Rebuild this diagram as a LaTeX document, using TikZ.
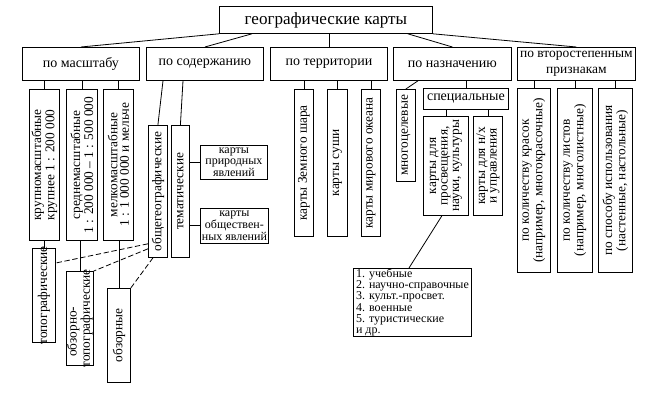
\documentclass[tikz,border=0pt]{standalone}
\usepackage{fontspec}
\setmainfont{Liberation Serif}
\usetikzlibrary{calc}
\newcommand\bxv[6]{\node[boxn, minimum width={(#4-#2)*0.75pt}, minimum height={(#5-#3)*0.75pt}, anchor=north west] (#1) at (#2,#3) {};
  \node[vtxt] (#1-t) at (#1.center) {#6};}
\newcommand\bxh[7]{\node[boxn, minimum width={(#4-#2)*0.75pt}, minimum height={(#5-#3)*0.75pt}, anchor=north west] (#1) at (#2,#3) {};
  \node[htxt, font=#6] (#1-t) at (#1.center) {#7};}
\begin{document}
\begin{tikzpicture}[x=0.75pt,y=-0.75pt,
  boxn/.style={draw, line width=0.6pt, inner sep=0pt},
  vtxt/.style={rotate=90, align=center, inner sep=0pt, font=\fontsize{10}{8.6}\selectfont},
  htxt/.style={align=center, inner sep=0pt},
  conn/.style={line width=0.6pt},
  dconn/.style={line width=0.6pt, dash pattern=on 4pt off 2pt}]
\fill[white] (0,0) rectangle (662,403);
\useasboundingbox (0,0) rectangle (662,403);
% top
\bxh{top}{219}{6}{432}{33}{\fontsize{12.8}{15}\selectfont}{географические карты}
% row 2
\bxh{masht}{22}{47}{139}{80}{\fontsize{10.5}{12.5}\selectfont}{по масштабу}
\bxh{soder}{146}{47}{263}{80}{\fontsize{10.5}{12.5}\selectfont}{по содержанию}
\bxh{terr}{270}{47}{387}{80}{\fontsize{10.5}{12.5}\selectfont}{по территории}
\bxh{nazn}{393}{47}{511}{80}{\fontsize{10.5}{12.5}\selectfont}{по назначению}
\bxh{vtor}{517}{47}{635}{80}{\fontsize{10.1}{12.5}\selectfont}{по второстепенным\\признакам}
\draw[conn] (top.south west) -- (masht.north);
\draw[conn] ($(top.south west)+(33,0)$) -- (soder.north);
\draw[conn] (terr.north |- top.south) -- (terr.north);
\draw[conn] ($(top.south east)+(-25,0)$) -- (nazn.north);
\draw[conn] (top.south east) -- (vtor.north);
% scale
\bxv{krup}{29}{89}{59}{240}{крупномасштабные\\крупнее 1 : 200 000}
\bxv{sred}{66}{89}{97}{240}{среднемасштабные\\1 : 200 000 – 1 : 500 000}
\bxv{melk}{103}{89}{133}{240}{мелкомасштабные\\1 : 1 000 000 и мельче}
\foreach \n in {krup,sred,melk} \draw[conn] (\n.north |- masht.south) -- (\n.north);
\bxv{topo}{32}{248}{55}{342}{топографические}
\bxv{obztopo}{66}{271}{93}{365}{обзорно-\kern2em\relax\\топографические}
\bxv{obz}{107}{288}{130}{382}{обзорные}
\draw[conn] (topo.north |- krup.south) -- (topo.north);
\draw[conn] (obztopo.north |- sred.south) -- (obztopo.north);
\draw[conn] (obz.north |- melk.south) -- (obz.north);
% content
\bxv{obsh}{148}{125}{167}{257}{общегеографические}
\bxv{temat}{171}{125}{189}{257}{тематические}
\draw[conn] ($(soder.south west)+(17,0)$) -- (obsh.north);
\draw[conn] ($(soder.south west)+(37,0)$) -- (temat.north);
\bxh{prir}{200}{145}{267}{179}{\fontsize{9}{7.8}\selectfont}{карты\\природных\\явлений}
\bxh{obshch}{200}{208}{268}{243}{\fontsize{9}{7.8}\selectfont}{карты\\обществен-\\ных явлений}
\draw[conn] (temat.east |- prir.west) -- (prir.west);
\draw[conn] (temat.east |- obshch.west) -- (obshch.west);
\draw[dconn] ($(obsh.south west)+(0,-14)$) -- ($(topo.north east)+(0,15)$);
\draw[dconn] ($(obsh.south west)+(0,-9)$) -- (obztopo.north east);
\draw[dconn] ($(obsh.south west)+(5,0)$) -- (obz.north east);
% territory
\bxv{zemn}{294}{89}{313}{236}{карты Земного шара}
\bxv{sushi}{327}{89}{347}{236}{карты суши}
\bxv{okean}{361}{89}{380}{236}{карты мирового океана}
\foreach \n in {zemn,sushi,okean} \draw[conn] (\n.north |- terr.south) -- (\n.north);
% purpose
\bxv{mnogo}{396}{89}{415}{181}{многоцелевые}
\bxh{spec}{423}{88}{508}{109}{\fontsize{10.5}{12.5}\selectfont}{специальные}
\draw[conn] ($(nazn.south west)+(25,0)$) -- (mnogo.north);
\draw[conn] (spec.north |- nazn.south) -- (spec.north);
\bxv{prosv}{423}{116}{468}{215}{карты для\\просвещения,\\науки, культуры}
\bxv{nx}{473}{116}{502}{215}{карты для н/х\\и управления}
\draw[conn] (prosv.north |- spec.south) -- (prosv.north);
\draw[conn] (nx.north |- spec.south) -- (nx.north);
\node[boxn, font=\fontsize{9}{8.5}\selectfont, minimum width={118*0.75pt}, minimum height={68*0.75pt}, anchor=north west, align=left, inner xsep=2pt] (list) at (353,268) {1. учебные\\2. научно-справочные\\3. культ.-просвет.\\4. военные\\5. туристические\\и др.};
\draw[conn] ($(prosv.south)+(-4,0)$) -- ($(list.north west)+(56,0)$);
% secondary
\bxv{kras}{517}{88}{550}{272}{по количеству красок\\(например, многокрасочные)}
\bxv{list2}{557}{88}{592}{272}{по количеству листов\\(например, многолистные)}
\bxv{sposob}{598}{88}{632}{272}{по способу использования\\(настенные, настольные)}
\foreach \n in {kras,list2,sposob} \draw[conn] (\n.north |- vtor.south) -- (\n.north);
\end{tikzpicture}
\end{document}
